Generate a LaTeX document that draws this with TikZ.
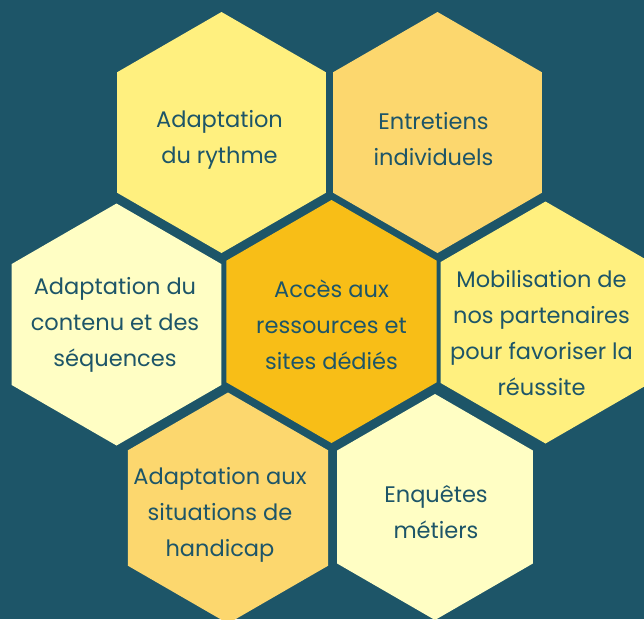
\documentclass[tikz,border=0pt]{standalone}
\usepackage{fontspec}
\setmainfont{Poppins}
\definecolor{bgteal}{HTML}{1D5568}
\definecolor{hexA}{HTML}{FFF07F}
\definecolor{hexB}{HTML}{FCD76E}
\definecolor{hexC}{HTML}{FFFEC4}
\definecolor{hexD}{HTML}{F8BE17}
\tikzset{
  hexlabel/.style={text=bgteal, align=center, inner sep=0pt,
    font=\fontsize{22.5}{36}\selectfont},
}
\newcommand{\hexagon}[4]{%
  \fill[#4] (#1,#2) ++(90:#3) -- ++(210:#3) -- ++(270:#3) -- ++(330:#3) -- ++(30:#3) -- ++(90:#3) -- cycle;}
\begin{document}
\begin{tikzpicture}[x=1pt,y=-1pt]
\fill[bgteal] (0,0) rectangle (644,619);
\useasboundingbox (0,0) rectangle (644,619);
\hexagon{221.5}{132.5}{120.5}{hexA}
\hexagon{437.5}{132.5}{120.5}{hexB}
\hexagon{116.5}{324.5}{121}{hexC}
\hexagon{331.5}{321.5}{121.5}{hexD}
\hexagon{545.5}{322.5}{121}{hexA}
\hexagon{228}{508}{115.5}{hexB}
\hexagon{435}{507}{113}{hexC}
\node[hexlabel] (t1) at (219.5,139.5) {Adaptation\\du rythme};
\node[hexlabel] (t2) at (433.5,139.5) {Entretiens\\individuels};
\node[hexlabel] (t3) at (115,325) {Adaptation du\\contenu et des\\séquences};
\node[hexlabel] (t4) at (331.5,325) {Accès aux\\ressources et\\sites dédiés};
\node[hexlabel] (t5) at (541.5,333) {Mobilisation de\\nos partenaires\\pour favoriser la\\réussite};
\node[hexlabel] (t6) at (220,514.5) {Adaptation aux\\situations de\\handicap};
\node[hexlabel] (t7) at (436,512) {Enquêtes\\métiers};
\end{tikzpicture}
\end{document}
